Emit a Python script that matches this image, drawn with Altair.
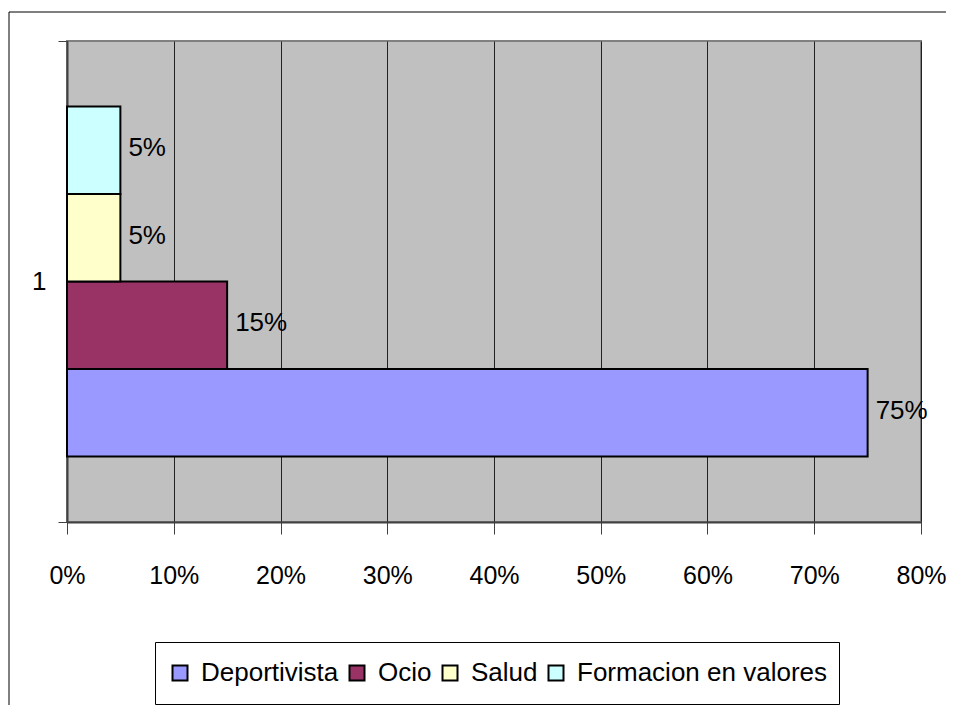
import altair as alt
import pandas as pd

categories = ["1"]
series = ["Deportivista", "Ocio", "Salud", "Formacion en valores"]
values = [0.75, 0.15, 0.05, 0.05]
colors = ["#9999FF", "#993366", "#FFFFCC", "#CCFFFF"]
x_ticks = [0, 0.1, 0.2, 0.3, 0.4, 0.5, 0.6, 0.7, 0.8]
stack_order = ["Formacion en valores", "Salud", "Ocio", "Deportivista"]

FONT = "Liberation Sans"
FS = 26

df = pd.DataFrame({
    "cat": [categories[0]] * len(series),
    "serie": series,
    "valor": values,
})

x_enc = alt.X(
    "valor:Q",
    scale=alt.Scale(domain=[0, 0.8], nice=False, zero=True),
    axis=alt.Axis(
        values=x_ticks, format=".0%", title=None,
        grid=True, gridColor="#222222", gridWidth=1,
        tickSize=12, tickColor="#404040", tickWidth=1,
        domainColor="#404040", domainWidth=2,
        labelFont=FONT, labelFontSize=25, labelColor="#000000",
        labelPadding=29, labelFlush=False, labelOverlap=False, labelLimit=0,
    ),
)
y_enc = alt.Y(
    "cat:N",
    scale=alt.Scale(paddingInner=0, paddingOuter=0),
    axis=alt.Axis(
        title=None, tickBand="extent", tickSize=9, tickColor="#404040",
        domainColor="#404040", domainWidth=2,
        labelFont=FONT, labelFontSize=FS, labelColor="#000000",
        labelPadding=12, labelAngle=0,
    ),
)
yoff_enc = alt.YOffset(
    "serie:N",
    sort=stack_order,
    scale=alt.Scale(paddingInner=0, paddingOuter=0.75),
)

bars = alt.Chart(df).mark_bar(stroke="#000000", strokeWidth=2).encode(
    x=x_enc,
    y=y_enc,
    yOffset=yoff_enc,
    color=alt.Color(
        "serie:N",
        scale=alt.Scale(domain=series, range=colors),
        legend=alt.Legend(
            title=None, orient="none", direction="horizontal",
            legendX=88, legendY=601,
            padding=12, clipHeight=38,
            strokeColor="#000000", fillColor="#FFFFFF",
            symbolType="square", symbolSize=225,
            symbolStrokeColor="#000000", symbolStrokeWidth=2,
            labelFont=FONT, labelFontSize=FS, labelColor="#000000",
            labelOffset=8, columnPadding=5, labelLimit=0,
        ),
    ),
)

labels = alt.Chart(df).mark_text(
    align="left", baseline="middle", dx=8, dy=-2,
    font=FONT, fontSize=FS, color="#000000",
).encode(
    x=alt.X("valor:Q"),
    y=alt.Y("cat:N"),
    yOffset=yoff_enc,
    text=alt.Text("valor:Q", format=".0%"),
)

one = pd.DataFrame({"a": [0]})
frame_left = alt.Chart(one).mark_rule(color="#000000", strokeWidth=1).encode(
    x=alt.value(-58), y=alt.value(-29), y2=alt.value(720)
)
frame_top = alt.Chart(one).mark_rule(color="#000000", strokeWidth=1).encode(
    x=alt.value(-58), x2=alt.value(960), y=alt.value(-29)
)

chart = alt.layer(bars, labels, frame_left, frame_top).properties(
    width=854, height=481,
    autosize=alt.AutoSizeParams(type="none"),
    padding={"left": 59, "top": 33, "right": 25, "bottom": 183},
    background="#FFFFFF",
).configure_view(
    fill="#C0C0C0", stroke="#808080", strokeWidth=2,
)

chart.save("out.html", embed_options={"renderer": "svg", "actions": False})
